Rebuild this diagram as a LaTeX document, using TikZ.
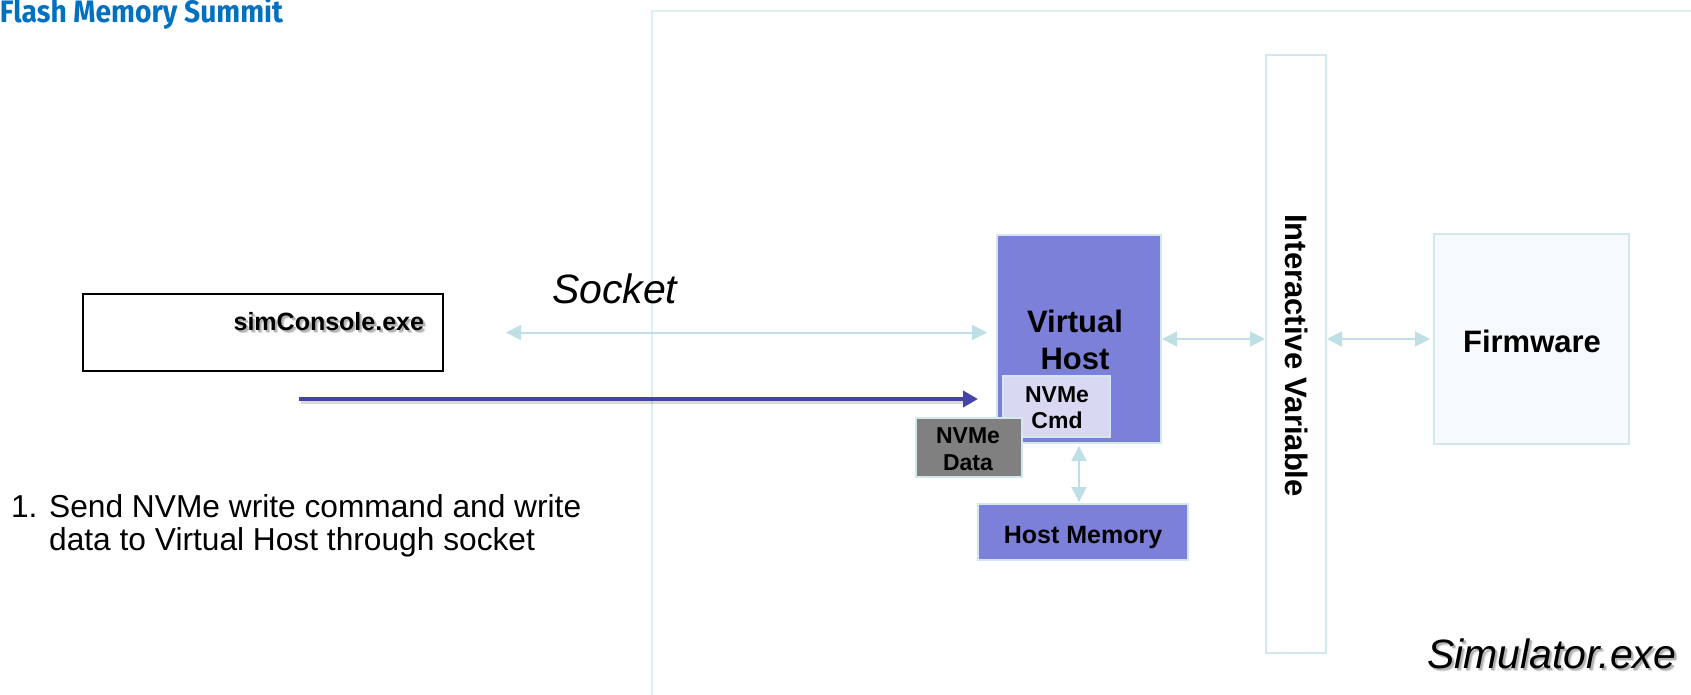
\documentclass[tikz,border=0pt]{standalone}
\usepackage{graphicx}
\usepackage{fontspec}
\setmainfont{Liberation Sans}
\newfontfamily\titlefont{Fira Sans}[FakeStretch=0.8]
\usetikzlibrary{arrows.meta}

\definecolor{titlec}{HTML}{0070C0}
\definecolor{framec}{HTML}{DDEFF3}
\definecolor{edgec}{HTML}{D2E8EC}
\definecolor{linkc}{HTML}{BEDFE4}
\definecolor{vhc}{HTML}{7D80D8}
\definecolor{cmdc}{HTML}{D8D8F2}
\definecolor{datac}{HTML}{808080}
\definecolor{fwc}{HTML}{F7FAFC}
\definecolor{pushc}{HTML}{4343A8}

% text with a soft grey drop shadow, set as one box
\newcommand\softshadow[1]{%
  \rlap{\hspace*{3pt}\raisebox{-3pt}{\color{black!13}#1}}%
  \rlap{\hspace*{2pt}\raisebox{-2pt}{\color{black!30}#1}}%
  #1}

\begin{document}
\begin{tikzpicture}[x=1pt,y=-1pt,
  every node/.style={inner sep=0pt, outer sep=0pt},
  box/.style={draw=edgec, line width=2pt},
  link/.style={draw=linkc, line width=2pt,
    {Triangle[length=15pt,width=15pt]}-{Triangle[length=15pt,width=15pt]}},
  push/.style={draw=pushc, line width=4.5pt, -{Triangle[length=15pt,width=16pt]}},
  smalllbl/.style={font=\fontsize{23}{26}\selectfont\bfseries, anchor=base, align=center},
  biglbl/.style={font=\fontsize{31}{37}\selectfont\bfseries, anchor=base, align=center},
]
\useasboundingbox (0,0) rectangle (1691,694);

% outer frame of the simulator process
\draw[draw=framec, line width=2pt] (652,700) -- (652,11) -- (1700,11);

% header
\node[anchor=base west, text=titlec] (title) at (0,22)
  {\resizebox{283pt}{\height}{\titlefont\bfseries\fontsize{31}{31}\selectfont Flash Memory Summit}};

% console process
\node[draw=black, line width=1.6pt, minimum width=360pt, minimum height=77pt] (sim) at (263,332.5) {};
\node[anchor=base east, font=\fontsize{25}{30}\selectfont\bfseries] (simtext) at (424,330) {\softshadow{simConsole.exe}};

% simulator blocks
\node[box, fill=vhc, minimum width=164pt, minimum height=208pt] (vh) at (1079,339) {};
\node[biglbl] (vhtext) at (1075,369) {Virtual\\Host};

\node[box, fill=cmdc, minimum width=107pt, minimum height=61pt] (cmd) at (1056.5,406.5) {};
\node[smalllbl] (cmdtext) at (1057,428) {NVMe\\Cmd};

\node[box, fill=datac, minimum width=106pt, minimum height=59pt] (data) at (969,447.5) {};
\node[smalllbl] (datatext) at (968,470) {NVMe\\[1pt]Data};

\node[box, fill=vhc, minimum width=210pt, minimum height=56pt] (hm) at (1083,532) {};
\node[anchor=base, font=\fontsize{25}{30}\selectfont\bfseries] (hmtext) at (1083,543) {Host Memory};

\node[box, fill=white, minimum width=60pt, minimum height=598pt] (iv) at (1296,354) {};
\node[rotate=-90, font=\fontsize{31}{37}\selectfont\bfseries] (ivtext) at (1297,355.5) {Interactive Variable};

\node[box, fill=fwc, minimum width=195pt, minimum height=210pt] (fw) at (1531.5,339) {};
\node[biglbl] (fwtext) at (1532,352) {Firmware};

% connectors
\draw[link, shorten <=63pt, shorten >=10pt] (sim.east) -- (vh.west |- sim.east);
\draw[link, shorten <=1pt, shorten >=1pt] (vh.east) -- (vh.east -| iv.west);
\draw[link, shorten <=1pt, shorten >=4pt] (iv.east |- fw.west) -- (fw.west);
\draw[link, shorten <=3pt, shorten >=2pt] (vh.south) -- (vh.south |- hm.north);

\coordinate (pushstart) at (299,399);
\draw[draw=black, opacity=0.15, line width=4pt, shorten >=30pt] ([shift={(2,3)}]pushstart) -- ([shift={(2,3)}]vh.west |- pushstart);
\draw[push, shorten >=19pt] (pushstart) -- (vh.west |- pushstart);

% labels
\node[anchor=base west, font=\fontsize{41}{48}\selectfont\itshape] (socket) at (552,303) {Socket};

\node[anchor=base west, align=left, font=\fontsize{31.7}{33}\selectfont] (step) at (11,550)
  {1. Send NVMe write command and write\\\hphantom{1. }data to Virtual Host through socket};

\node[anchor=base west, font=\fontsize{41}{48}\selectfont\itshape] (simexe) at (1427,668) {\softshadow{Simulator.exe}};
\end{tikzpicture}
\end{document}
